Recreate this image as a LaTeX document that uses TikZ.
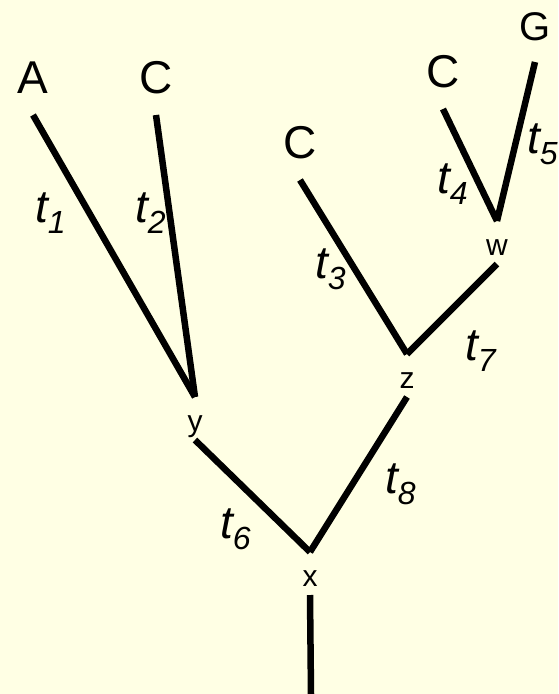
\documentclass[tikz,border=0pt]{standalone}
\usepackage{fontspec}
\setmainfont{Liberation Sans}
\usetikzlibrary{positioning}
\definecolor{treebg}{RGB}{255,255,228}
\newcommand{\brlen}[1]{{\itshape t\raisebox{-11pt}{\fontsize{32}{32}\selectfont #1}}}

\tikzset{
  leaf/.style={font=\fontsize{46}{46}\selectfont,inner sep=0pt,outer sep=22pt,
    text height=33pt,text depth=0pt,anchor=base},
  inner/.style={font=\fontsize{30}{30}\selectfont,inner sep=0pt,outer sep=9pt,
    text height=25pt,text depth=0pt,anchor=base},
  branch/.style={line width=6.5pt,black},
  blab/.style={font=\fontsize{46}{46}\selectfont,inner sep=0pt,anchor=base west}
}

\begin{document}
\begin{tikzpicture}[x=1pt,y=-1pt]
    \fill[treebg] (0,0) rectangle (558,694);
    \useasboundingbox (0,0) rectangle (558,694);

    % leaves
    \node[leaf] (A) at (33,93) {A};
    \node[leaf] (c1) at (156,93) {C};
    \node[leaf] (c2) at (300,158) {C};
    \node[leaf] (c3) at (443,87) {C};
    \node[leaf,font=\fontsize{40}{40}\selectfont] (G) at (535,40) {G};

    % internal nodes
    \node[inner] (y) at (195,431) {y};
    \node[inner] (z) at (407,388) {z};
    \node[inner] (w) at (497,255) {w};
    \node[inner] (x) at (310,586) {x};
    \coordinate (root) at (311,694);

    % branches
    \foreach \a/\b in {A/y,c1/y,c2/z,c3/w,G/w,w/z,y/x,z/x}
      \draw[branch] (\a.south) -- (\b.north);
    \draw[branch] (x.south) -- (root);

    % branch lengths
    \foreach \i/\px/\py in {1/35/222,2/135/222,3/315/278,4/437/193,5/527/153,6/220/538,7/465/360,8/385/493}
      \node[blab] (t\i) at (\px,\py) {\brlen{\i}};
\end{tikzpicture}
\end{document}
